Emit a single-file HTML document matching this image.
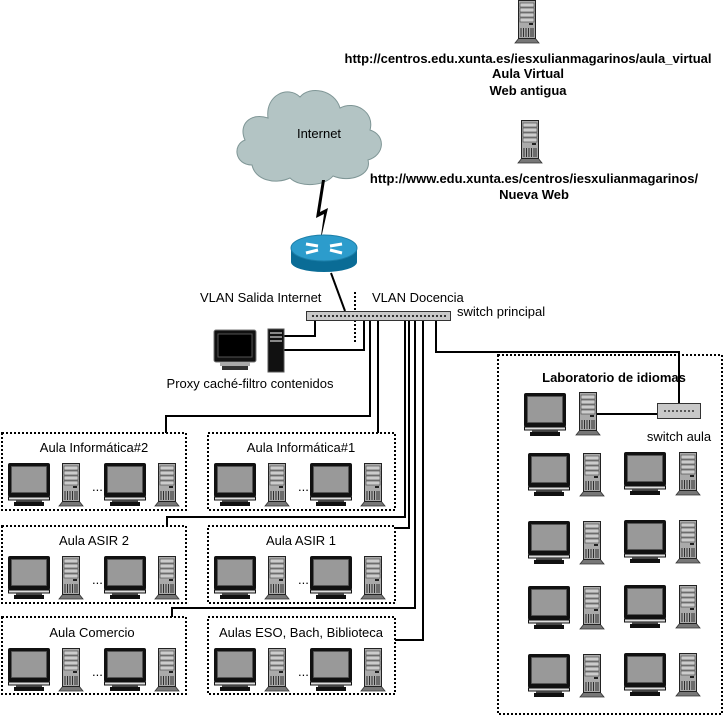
<!DOCTYPE html>
<html><head><meta charset="utf-8"><style>
html,body{margin:0;padding:0;background:#fff}
svg{display:block}
text{font-family:"Liberation Sans",sans-serif;font-size:13px;fill:#000}
.b{font-weight:bold}
</style></head><body>
<svg width="724" height="716" viewBox="0 0 724 716" xmlns="http://www.w3.org/2000/svg">
<defs>
<g id="mon">
<rect x="0" y="0" width="42" height="34" rx="2" fill="#111"/>
<rect x="3.5" y="3.5" width="35" height="26" fill="#999" stroke="#555" stroke-width="0.8"/>
<rect x="0.5" y="34" width="41" height="3" fill="#ddd" stroke="#111" stroke-width="1"/>
<rect x="8" y="37" width="26" height="2" fill="#444"/>
<rect x="6" y="39" width="30" height="4" fill="#111"/>
</g>
<g id="tow">
<path d="M0 43 L4 38 L20 38 L24 43 Z" fill="#777" stroke="#333" stroke-width="0.8"/>
<rect x="3.5" y="0.5" width="17" height="38" fill="#aaa" stroke="#222" stroke-width="1"/>
<rect x="5" y="3" width="14" height="4" fill="#ccc" stroke="#444" stroke-width="0.6"/>
<rect x="5" y="8" width="14" height="4" fill="#ccc" stroke="#444" stroke-width="0.6"/>
<rect x="5" y="13" width="14" height="4" fill="#ccc" stroke="#444" stroke-width="0.6"/>
<rect x="5" y="18" width="14" height="4" fill="#ccc" stroke="#444" stroke-width="0.6"/>
<rect x="14" y="23" width="4" height="2" fill="#222"/>
<path d="M6 28v9M8.5 28v9M11 28v9M13.5 28v9M16 28v9M18 28v9" stroke="#222" stroke-width="0.9"/>
</g>
<g id="row">
<use href="#mon" x="0" y="0"/><use href="#tow" x="51" y="0"/>
<text x="84" y="28">...</text>
<use href="#mon" x="96" y="0"/><use href="#tow" x="147" y="0"/>
</g>
</defs>

<use href="#tow" x="515" y="0"/>
<use href="#tow" x="518" y="120"/>
<text x="528" y="63" text-anchor="middle" class="b">http://centros.edu.xunta.es/iesxulianmagarinos/aula_virtual</text>
<text x="528" y="78" text-anchor="middle" class="b">Aula Virtual</text>
<text x="528" y="95" text-anchor="middle" class="b">Web antigua</text>
<text x="534" y="183" text-anchor="middle" class="b">http://www.edu.xunta.es/centros/iesxulianmagarinos/</text>
<text x="534" y="199" text-anchor="middle" class="b">Nueva Web</text>

<path d="M268 118 C250 112 238 125 245 140 C232 145 235 165 252 165 C255 180 275 185 290 178 C300 188 325 186 333 176 C350 183 372 175 368 160 C385 155 386 135 370 130 C375 112 355 100 340 108 C335 90 310 85 300 97 C288 85 265 95 268 118 Z" fill="#b3c4c4" stroke="#7f9696" stroke-width="1"/>
<text x="319" y="138" text-anchor="middle">Internet</text>
<path d="M322 180 L316 218 L324 214 L320 243 L328 208 L320 212 L325 180 Z" fill="#000"/>

<path d="M291 248 L291 262 A33 10 0 0 0 357 262 L357 248 Z" fill="#0a6c96"/>
<ellipse cx="324" cy="248" rx="33" ry="13" fill="#2c9ccc" stroke="#1d7fa8" stroke-width="1"/>
<path d="M306 244 L318 246 M342 244 L330 246 M306 253 L318 250 M342 253 L330 250" stroke="#fff" stroke-width="3"/>
<line x1="331" y1="273" x2="345" y2="311" stroke="#000" stroke-width="2"/>

<text x="200" y="302">VLAN Salida Internet</text>
<text x="372" y="302">VLAN Docencia</text>
<text x="457" y="316">switch principal</text>
<line x1="355" y1="292" x2="355" y2="342" stroke="#000" stroke-width="2" stroke-dasharray="2,2"/>

<g fill="none" stroke="#000" stroke-width="2">
<polyline points="315,320 315,336 284,336"/>
<polyline points="364,320 364,350 284,350"/>
<polyline points="370,320 370,416 166,416 166,433"/>
<polyline points="378,320 378,433"/>
<polyline points="405,320 405,517 167,517 167,526"/>
<polyline points="409,320 409,528 395,528"/>
<polyline points="415,320 415,608 172,608 172,617"/>
<polyline points="423,320 423,640 395,640"/>
<polyline points="436,320 436,352 679,352 679,403"/>
<polyline points="597,414 657,414"/>
</g>

<rect x="306.5" y="311.5" width="144" height="9" fill="#c8c8c8" stroke="#333" stroke-width="1"/>
<line x1="312" y1="316" x2="446" y2="316" stroke="#333" stroke-width="2" stroke-dasharray="2,2"/>

<g>
<rect x="214" y="330" width="42" height="32" rx="2" fill="#111" stroke="#777"/>
<rect x="218" y="334" width="34" height="23" fill="#000" stroke="#555"/>
<rect x="220" y="362" width="30" height="4" fill="#aaa"/>
<rect x="222" y="366" width="26" height="4" fill="#333"/>
<rect x="268" y="329" width="16" height="43" fill="#111" stroke="#555"/>
<path d="M270 333h12M270 337h12M270 341h12" stroke="#888" stroke-width="2"/>
</g>
<text x="250" y="388" text-anchor="middle">Proxy caché-filtro contenidos</text>

<g fill="none" stroke="#000" stroke-width="2" stroke-dasharray="2,2">
<rect x="2" y="433" width="184" height="77"/>
<rect x="208" y="433" width="187" height="77"/>
<rect x="2" y="526" width="184" height="77"/>
<rect x="208" y="526" width="187" height="77"/>
<rect x="2" y="617" width="184" height="77"/>
<rect x="208" y="617" width="187" height="77"/>
<rect x="498" y="355" width="224" height="359"/>
</g>
<text x="94" y="452" text-anchor="middle">Aula Informática#2</text>
<text x="301" y="452" text-anchor="middle">Aula Informática#1</text>
<text x="94" y="545" text-anchor="middle">Aula ASIR 2</text>
<text x="301" y="545" text-anchor="middle">Aula ASIR 1</text>
<text x="92" y="637" text-anchor="middle">Aula Comercio</text>
<text x="301" y="637" text-anchor="middle">Aulas ESO, Bach, Biblioteca</text>

<use href="#row" x="8" y="463"/>
<use href="#row" x="214" y="463"/>
<use href="#row" x="8" y="556"/>
<use href="#row" x="214" y="556"/>
<use href="#row" x="8" y="648"/>
<use href="#row" x="214" y="648"/>

<text x="614" y="382" text-anchor="middle" class="b">Laboratorio de idiomas</text>
<use href="#mon" x="524" y="393"/><use href="#tow" x="576" y="392"/>
<rect x="657.5" y="403.5" width="43" height="15" fill="#c8c8c8" stroke="#333" stroke-width="1"/>
<line x1="664" y1="411" x2="694" y2="411" stroke="#333" stroke-width="1.5" stroke-dasharray="2,2"/>
<text x="679" y="441" text-anchor="middle">switch aula</text>
<use href="#mon" x="528" y="453"/><use href="#tow" x="580" y="453"/>
<use href="#mon" x="624" y="452"/><use href="#tow" x="676" y="452"/>
<use href="#mon" x="528" y="521"/><use href="#tow" x="580" y="521"/>
<use href="#mon" x="624" y="520"/><use href="#tow" x="676" y="520"/>
<use href="#mon" x="528" y="586"/><use href="#tow" x="580" y="586"/>
<use href="#mon" x="624" y="585"/><use href="#tow" x="676" y="585"/>
<use href="#mon" x="528" y="654"/><use href="#tow" x="580" y="654"/>
<use href="#mon" x="624" y="653"/><use href="#tow" x="676" y="653"/>
</svg>
</body></html>
